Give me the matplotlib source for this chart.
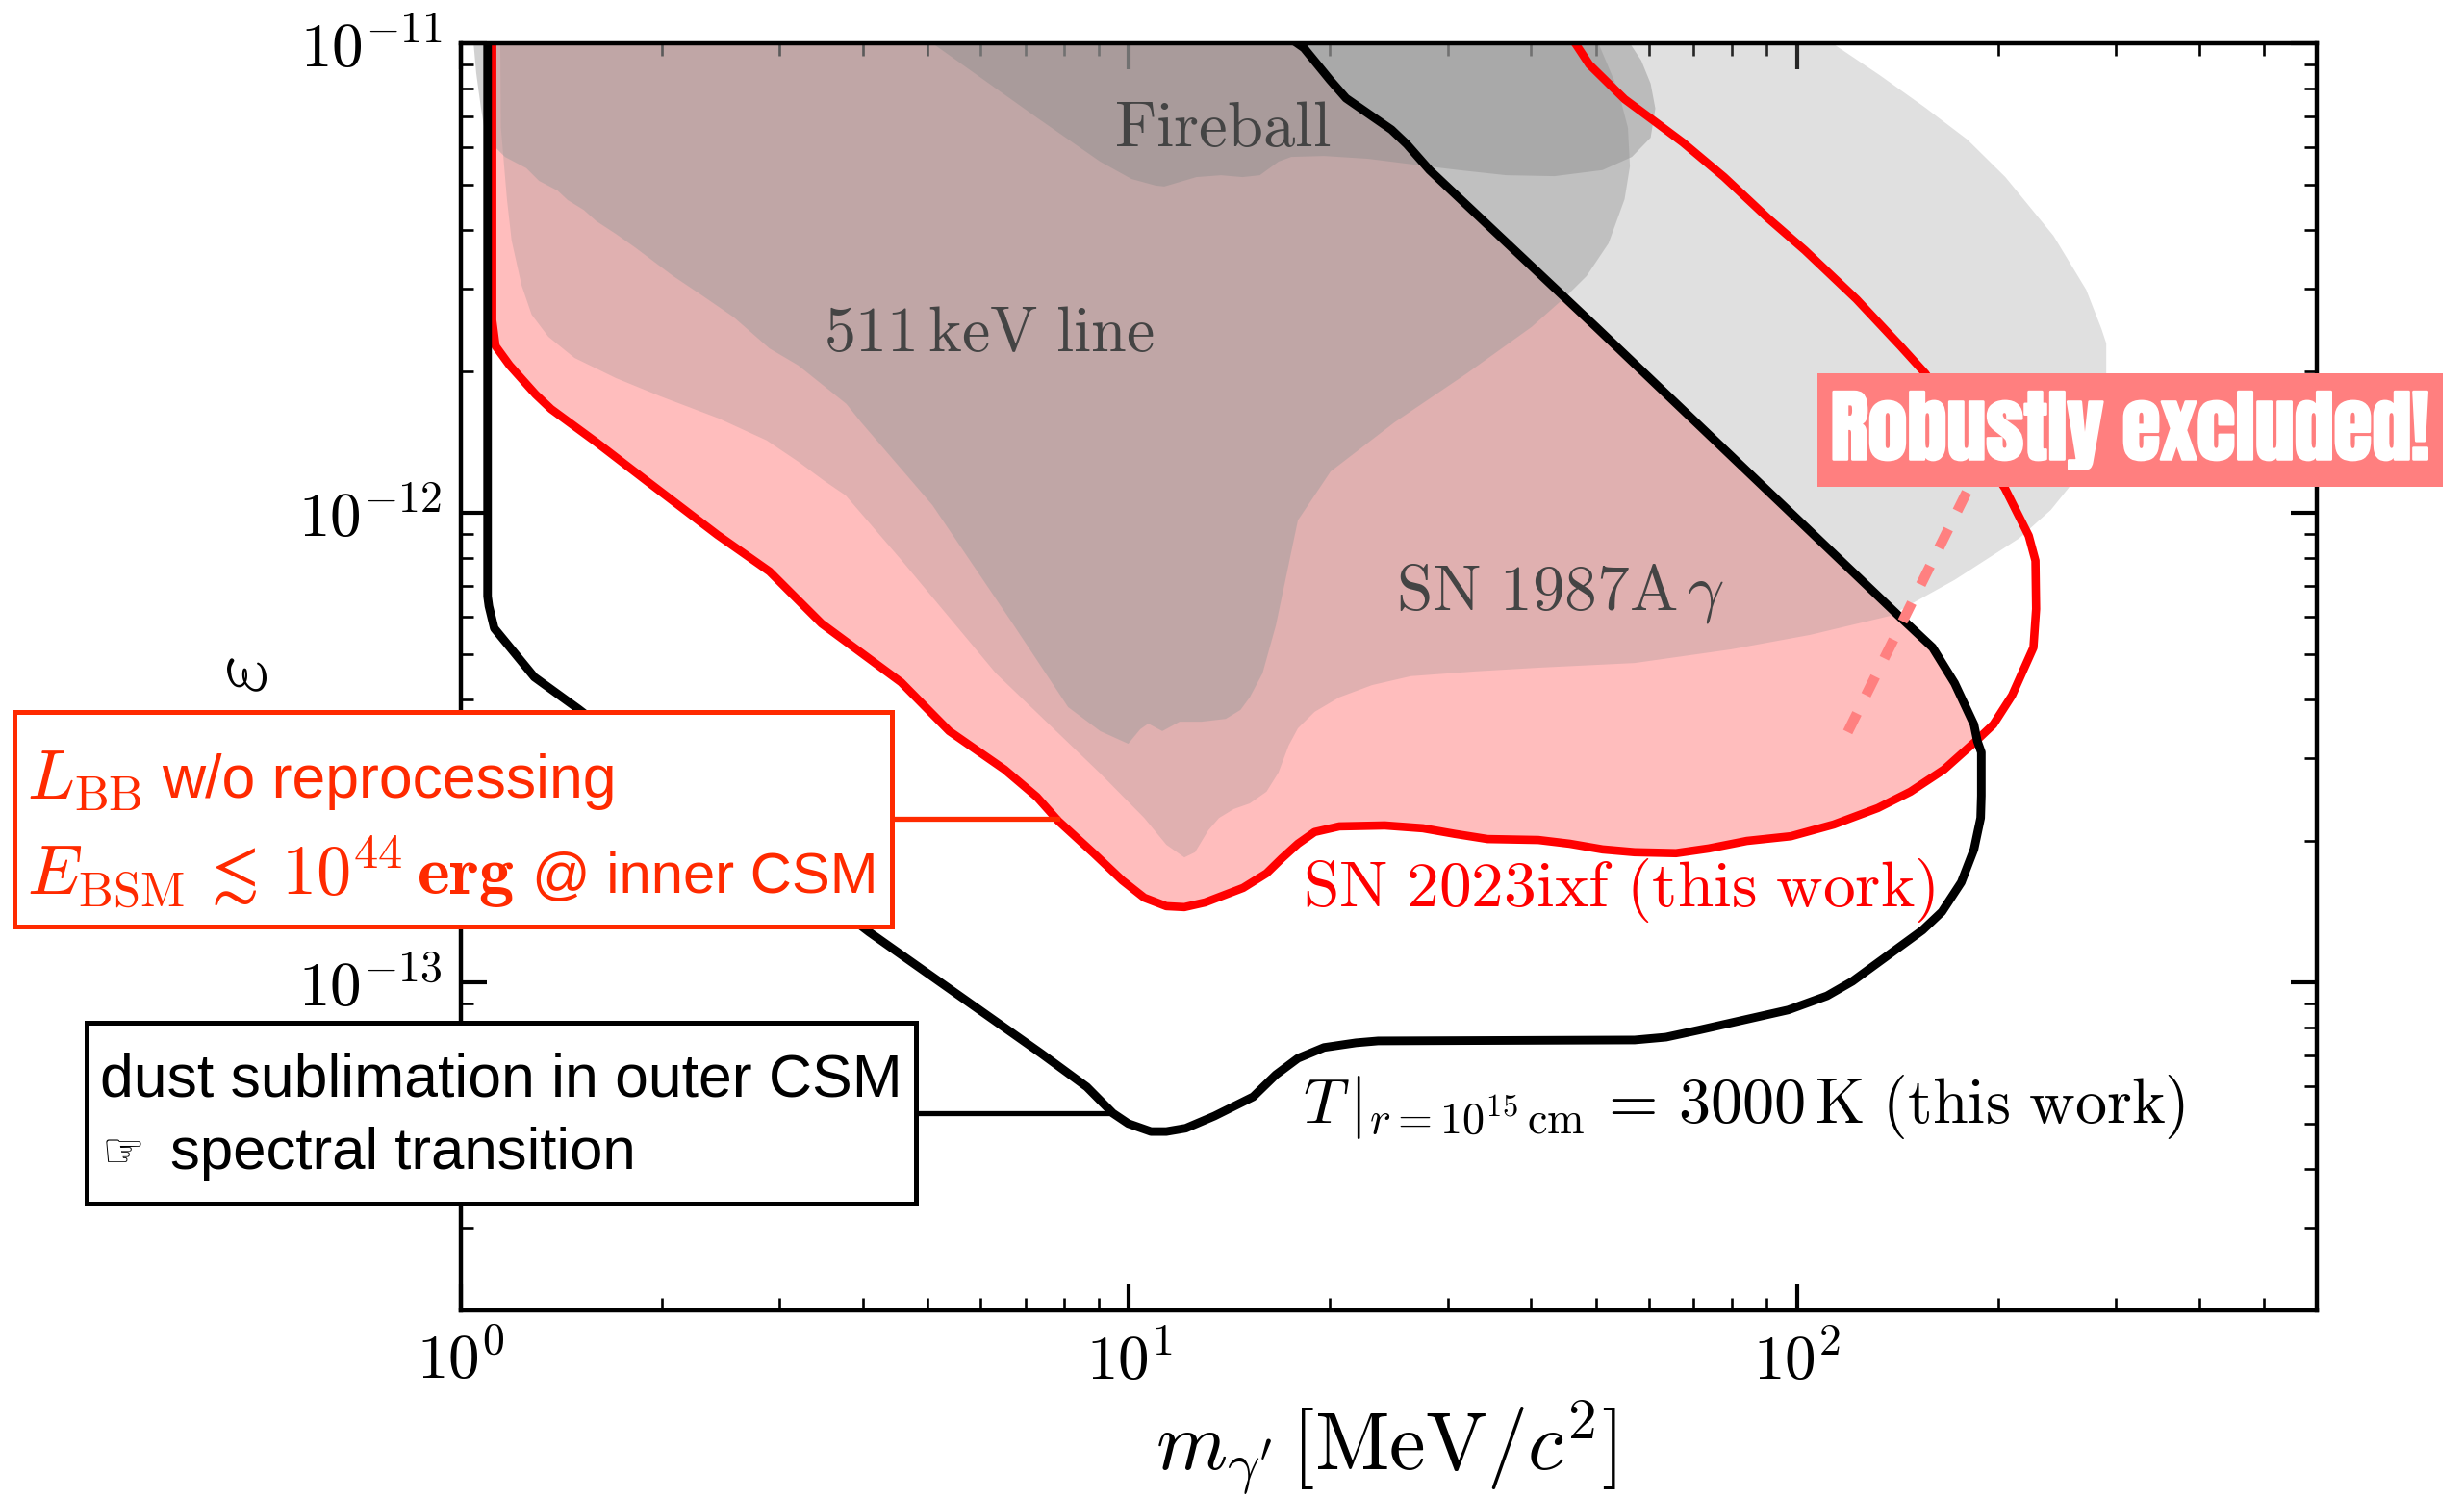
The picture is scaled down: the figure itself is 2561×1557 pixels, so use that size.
import numpy as np
import matplotlib
matplotlib.use("Agg")
import matplotlib.pyplot as plt
import matplotlib.patheffects as pe
from matplotlib.patches import Rectangle
from matplotlib.lines import Line2D
from matplotlib.ticker import LogLocator, NullFormatter, LogFormatterMathtext

# ---- data (log10 of mass in MeV/c^2, log10 of epsilon)
red_logm = [0.047, 0.047, 0.052, 0.073, 0.112, 0.135, 0.203, 0.278, 0.384, 0.462, 0.540, 0.659, 0.731, 0.814, 0.862,
            0.894, 0.947, 0.990, 1.023, 1.056, 1.083, 1.114, 1.171, 1.206, 1.229, 1.253, 1.278, 1.315, 1.383, 1.440,
            1.488, 1.537, 1.613, 1.660, 1.709, 1.757, 1.819, 1.868, 1.925, 1.991, 2.055, 2.121, 2.170, 2.220, 2.268,
            2.294, 2.322, 2.354, 2.358, 2.357, 2.347, 2.311, 2.192, 2.155, 2.089, 2.012, 1.957, 1.891, 1.829, 1.781,
            1.742, 1.689, 1.670, 1.668]
red_logeps = [-11.0, -11.590, -11.645, -11.686, -11.748, -11.779, -11.850, -11.932, -12.047, -12.125, -12.236, -12.361,
              -12.465, -12.547, -12.605, -12.656, -12.725, -12.783, -12.820, -12.838, -12.840, -12.830, -12.799, -12.768,
              -12.736, -12.705, -12.680, -12.668, -12.666, -12.672, -12.684, -12.695, -12.697, -12.705, -12.717, -12.723,
              -12.725, -12.715, -12.699, -12.689, -12.664, -12.629, -12.594, -12.547, -12.486, -12.451, -12.389, -12.287,
              -12.205, -12.102, -12.049, -11.947, -11.703, -11.645, -11.545, -11.441, -11.373, -11.285, -11.211, -11.160,
              -11.119, -11.045, -11.004, -11.0]
red_cross = 45  # points of the red curve up to its crossing with the black one

black_logm = [0.040, 0.040, 0.042, 0.050, 0.110, 0.176, 0.611, 0.869, 0.937, 0.976, 0.999, 1.033, 1.056, 1.085,
              1.128, 1.186, 1.220, 1.253, 1.292, 1.340, 1.373, 1.757, 1.804, 1.853, 1.987, 2.045, 2.083, 2.188, 2.217,
              2.246, 2.265, 2.275, 2.276, 2.276, 2.270, 2.265, 2.236, 2.203, 2.155, 1.699, 1.450, 1.416, 1.393, 1.325,
              1.301, 1.262, 1.252]
black_logeps = [-11.0, -12.178, -12.199, -12.246, -12.350, -12.418, -12.893, -13.152, -13.223, -13.279, -13.301,
                -13.318, -13.318, -13.311, -13.285, -13.244, -13.197, -13.162, -13.139, -13.129, -13.125, -13.123, -13.117,
                -13.102, -13.059, -13.029, -12.998, -12.889, -12.850, -12.787, -12.717, -12.650, -12.603, -12.510, -12.486,
                -12.451, -12.363, -12.287, -12.223, -11.604, -11.270, -11.215, -11.184, -11.117, -11.078, -11.010, -11.0]
black_cross = 34  # index of that crossing along the black curve

sn87_logm = [0.059, 0.060, 0.069, 0.076, 0.091, 0.106, 0.131, 0.170, 0.232, 0.299, 0.386, 0.458, 0.505, 0.544, 0.576,
             0.659, 0.801, 0.957, 1.023, 1.056, 1.083, 1.099, 1.119, 1.135, 1.157, 1.181, 1.206, 1.224, 1.239, 1.253,
             1.278, 1.315, 1.364, 1.422, 1.517, 1.613, 1.757, 1.901, 2.020, 2.141, 2.170, 2.236, 2.332, 2.380, 2.409,
             2.445, 2.463, 2.463, 2.456, 2.433, 2.384, 2.312, 2.255, 2.192, 2.124, 2.053]
sn87_logeps = [-11.0, -11.180, -11.332, -11.420, -11.516, -11.578, -11.625, -11.670, -11.713, -11.752, -11.799, -11.846,
               -11.891, -11.932, -11.963, -12.100, -12.342, -12.555, -12.650, -12.707, -12.734, -12.723, -12.676, -12.650,
               -12.631, -12.619, -12.594, -12.553, -12.496, -12.459, -12.424, -12.393, -12.367, -12.348, -12.338, -12.330,
               -12.320, -12.291, -12.260, -12.219, -12.195, -12.143, -12.055, -11.994, -11.943, -11.828, -11.703, -11.639,
               -11.609, -11.525, -11.410, -11.285, -11.205, -11.137, -11.068, -11.0]

line511_logm = [0.019, 0.023, 0.030, 0.035, 0.047, 0.066, 0.098, 0.117, 0.145, 0.160, 0.184, 0.203, 0.232, 0.260, 0.289,
                0.318, 0.361, 0.409, 0.462, 0.505, 0.577, 0.599, 0.706, 0.826, 0.909, 0.957, 0.999, 1.017, 1.029, 1.050,
                1.076, 1.109, 1.145, 1.167, 1.181, 1.200, 1.220, 1.253, 1.302, 1.398, 1.506, 1.603, 1.656, 1.685, 1.718,
                1.742, 1.750, 1.747, 1.732, 1.704, 1.700]
line511_logeps = [-11.0, -11.064, -11.137, -11.180, -11.215, -11.242, -11.266, -11.293, -11.314, -11.334, -11.355, -11.379,
                  -11.406, -11.434, -11.465, -11.496, -11.537, -11.584, -11.650, -11.686, -11.768, -11.807, -11.984, -12.236,
                  -12.414, -12.465, -12.492, -12.461, -12.449, -12.465, -12.445, -12.445, -12.439, -12.420, -12.393, -12.342,
                  -12.240, -12.016, -11.912, -11.807, -11.703, -11.604, -11.537, -11.496, -11.426, -11.332, -11.262, -11.180,
                  -11.098, -11.004, -11.0]

fire_logm = [0.706, 0.862, 0.957, 1.004, 1.040, 1.053, 1.101, 1.138, 1.170, 1.196, 1.224, 1.243, 1.292, 1.358, 1.436,
             1.494, 1.565, 1.637, 1.709, 1.753, 1.781, 1.788, 1.781, 1.767, 1.750]
fire_logeps = [-11.0, -11.158, -11.252, -11.289, -11.303, -11.305, -11.285, -11.281, -11.285, -11.281, -11.252, -11.242,
               -11.240, -11.246, -11.260, -11.270, -11.281, -11.283, -11.270, -11.242, -11.201, -11.139, -11.086, -11.037,
               -11.0]

dash_logm = [2.076, 2.260]
dash_logeps = [-12.467, -11.939]

xlim = (1, 600)
ylim = (2e-14, 1e-11)
major_x = [1, 10, 100]
major_y = [1e-13, 1e-12, 1e-11]

W, H = 2561, 1557
plt.rcParams["font.family"] = ["cmr10", "DejaVu Sans"]
plt.rcParams["mathtext.fontset"] = "cm"
plt.rcParams["axes.formatter.use_mathtext"] = True
plt.rcParams["axes.unicode_minus"] = False

fig = plt.figure(figsize=(W / 100, H / 100), dpi=100)
ax = fig.add_axes([479 / W, 1 - 1362 / H, (2408 - 479) / W, (1362 - 45) / H])


def P(a, b):
    return 10 ** np.array(a), 10 ** np.array(b)


def fx(px):
    return px / W


def fy(py):
    return 1 - py / H


ax.set_xscale("log")
ax.set_yscale("log")
ax.set_xlim(*xlim)
ax.set_ylim(*ylim)

# robust exclusion area: above the red curve and left of the black one
pm = red_logm[:red_cross] + black_logm[black_cross:]
pe_ = red_logeps[:red_cross] + black_logeps[black_cross:]
ax.fill(*P(pm, pe_), color="#ffbdbd", lw=0, zorder=1)
ax.fill(*P(sn87_logm, sn87_logeps), color=(141 / 255,) * 3, alpha=0.27, lw=0, zorder=2)
ax.fill(*P(line511_logm, line511_logeps), color=(155 / 255,) * 3, alpha=0.45, lw=0, zorder=3)
ax.fill(*P(fire_logm, fire_logeps), color=(142 / 255,) * 3, alpha=0.45, lw=0, zorder=4)

ax.plot(*P(red_logm, red_logeps), color="#ff0000", lw=6.2, zorder=5, solid_joinstyle="round")
ax.plot(*P(black_logm, black_logeps), color="black", lw=6.4, zorder=6, solid_joinstyle="round")
ax.plot(*P(dash_logm, dash_logeps), color="#ff8080", lw=7.6, zorder=7, dashes=(2.05, 2.0))

ax.set_xticks(major_x)
ax.set_yticks(major_y)
ax.xaxis.set_major_formatter(LogFormatterMathtext())
ax.yaxis.set_major_formatter(LogFormatterMathtext())
ax.xaxis.set_minor_locator(LogLocator(base=10, subs=np.arange(2, 10), numticks=20))
ax.yaxis.set_minor_locator(LogLocator(base=10, subs=np.arange(2, 10), numticks=20))
ax.xaxis.set_minor_formatter(NullFormatter())
ax.yaxis.set_minor_formatter(NullFormatter())
ax.tick_params(which="major", direction="in", top=True, right=True, length=19.5, width=3.0, labelsize=47, pad=14)
ax.tick_params(which="minor", direction="in", top=True, right=True, length=9.5, width=1.9)
ax.tick_params(axis="x", which="major", pad=16)
for s in ax.spines.values():
    s.set_linewidth(3.2)
    s.set_zorder(10)

fig.text(fx(1441), fy(1505), r"$m_{\gamma'}\,[\mathrm{MeV}/c^2]$", fontsize=61, ha="center", va="center", zorder=30)
fig.text(fx(254), fy(702), r"$\varepsilon$", fontsize=62, ha="center", va="center", rotation=90, zorder=30)

GT = "#444444"
fig.text(fx(1271), fy(135), r"$\mathrm{Fireball}$", fontsize=48, color=GT, ha="center", va="center", zorder=30)
fig.text(fx(1028), fy(348), r"$\mathrm{511\,keV\ line}$", fontsize=47.5, color=GT, ha="center", va="center", zorder=30)
fig.text(fx(1622), fy(617), r"$\mathrm{SN\ 1987A}\,\gamma$", fontsize=48.5, color=GT, ha="center", va="center", zorder=30)
fig.text(fx(1683), fy(925), r"$\mathrm{SN\ 2023ixf\ (this\ work)}$", fontsize=48.5, color="#ff0000", ha="center", va="center", zorder=30)
fig.text(fx(1813), fy(1150), r"$T\,|_{r{=}10^{15}\,\mathrm{cm}}\,=\,3000\,\mathrm{K}\ \mathrm{(this\ work)}$", fontsize=47.6, color="black",
         ha="center", va="center", zorder=30)

RC = "#ff2a00"
# connectors and boxes (figure-level, above the axes)
fig.add_artist(Line2D([fx(927), fx(1099)], [fy(851), fy(851)], color=RC, lw=3.8, zorder=20))
fig.add_artist(Line2D([fx(952), fx(1157)], [fy(1157), fy(1157)], color="black", lw=3.8, zorder=20))
fig.add_artist(Rectangle((fx(15), fy(963)), (927 - 15) / W, (963 - 740) / H, transform=fig.transFigure,
                         facecolor="white", edgecolor=RC, lw=3.6, zorder=21))
fig.add_artist(Rectangle((fx(90), fy(1251)), (952 - 90) / W, (1251 - 1063) / H, transform=fig.transFigure,
                         facecolor="white", edgecolor="black", lw=3.6, zorder=21))
fig.add_artist(Rectangle((fx(1889), fy(506)), (2539 - 1889) / W, (506 - 388) / H, transform=fig.transFigure,
                         facecolor="#ff7f7f", edgecolor="none", zorder=21))

SANS = ["Liberation Sans", "DejaVu Sans"]
fig.text(fx(28), fy(831), r"$L_{\mathrm{BB}}$", fontsize=52, color=RC, ha="left", va="baseline", zorder=30)
fig.text(fx(168), fy(829), "w/o reprocessing", family=SANS, fontsize=45, color=RC, ha="left", va="baseline", zorder=30)
fig.text(fx(28), fy(930), r"$E_{\mathrm{BSM}}\,\lesssim\,10^{44}\,\mathbf{erg}$", fontsize=52, color=RC, ha="left", va="baseline", zorder=30)
fig.text(fx(553), fy(927), "@ inner CSM", family=SANS, fontsize=43, color=RC, ha="left", va="baseline", zorder=30)
fig.text(fx(104), fy(1139), "dust sublimation in outer CSM", family=SANS, fontsize=45, color="black", ha="left", va="baseline", zorder=30)
fig.text(fx(106), fy(1213), "\u261e", family="DejaVu Sans", fontsize=36, color="black", ha="left", va="baseline", zorder=30)
fig.text(fx(177), fy(1215), "spectral transition", family=SANS, fontsize=44.5, color="black", ha="left", va="baseline", zorder=30)

fig.text(fx(2214), fy(447), "Robustly excluded!", family=["Anton", "Archivo Narrow", "Roboto", "DejaVu Sans"], fontsize=59, color="white",
         ha="center", va="center", zorder=30, path_effects=[pe.withStroke(linewidth=1.8, foreground="white")])

fig.savefig("out.png", dpi=100)
